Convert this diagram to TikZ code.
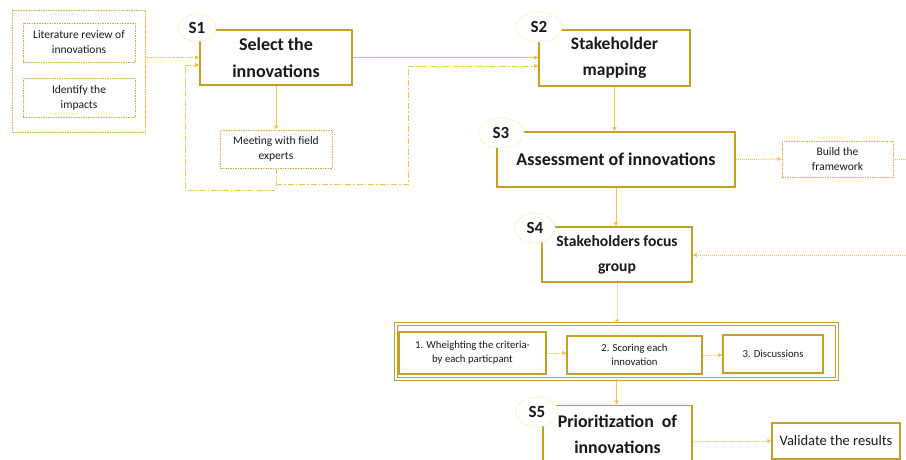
\documentclass[tikz,border=0pt]{standalone}
\usepackage{fontspec}
\setmainfont{Carlito}
\usetikzlibrary{arrows.meta,shapes.geometric,calc}
\definecolor{gold}{RGB}{198,160,36}
\definecolor{lineyel}{RGB}{242,196,64}
\definecolor{dotgold}{RGB}{214,172,50}
\definecolor{ellyel}{RGB}{245,215,110}
\definecolor{txt}{RGB}{25,25,25}
\tikzset{
  mainbox/.style={draw=gold,line width=1.6pt,fill=white,align=center,inner sep=2pt,text=txt},
  subbox/.style={draw=dotgold,dash pattern=on 1.5pt off 1pt,line width=0.9pt,fill=white,align=center,inner sep=2pt,text=txt,font=\fontsize{11.5}{15}\selectfont},
  plainbox/.style={draw=gold,line width=1.2pt,fill=white,align=center,inner sep=2pt,text=txt,font=\fontsize{10.7}{14}\selectfont},
  slabel/.style={ellipse,draw=ellyel,dotted,line width=0.8pt,fill=white,inner sep=0pt,text=txt,font=\fontsize{17}{17}\selectfont\bfseries},
  tip/.style={-{Triangle[length=4pt,width=4pt]}},
  solidarr/.style={tip,draw=lineyel,line width=1pt},
  dotarr/.style={tip,draw=lineyel,line width=1pt,dash pattern=on 1pt off 1pt},
  dasharr/.style={tip,draw=lineyel,line width=1pt,dash pattern=on 3pt off 1.5pt},
  dasharr2/.style={draw=lineyel,line width=1pt,dash pattern=on 6pt off 2pt on 1.5pt off 2pt},
}
\begin{document}
\begin{tikzpicture}[x=1pt,y=-1pt]
\useasboundingbox (0,0) rectangle (906,459);
\clip (0,0) rectangle (906,459);
\fill[white] (0,0) rectangle (906,459);

% left group
\node[subbox,minimum width=133pt,minimum height=122pt] (outer) at (78.5,71) {};
\node[subbox,minimum width=112pt,minimum height=39pt] (lit) at (79,42.5) {Literature review of\\innovations};
\node[subbox,minimum width=112pt,minimum height=39pt] (imp) at (79,97.5) {Identify the\\impacts};

% S1
\node[mainbox,minimum width=152pt,minimum height=55pt,font=\fontsize{18}{27}\selectfont\bfseries] (s1) at (276,57.5) {Select the\\innovations};
\node[slabel,minimum width=38pt,minimum height=27pt] (e1) at (197,28) {S1};
\node[subbox,minimum width=112pt,minimum height=38pt] (meet) at (276,149) {Meeting with field\\experts};

% S2
\node[mainbox,minimum width=151pt,minimum height=56pt,font=\fontsize{17.5}{26}\selectfont\bfseries] (s2) at (614.5,58) {Stakeholder\\mapping};
\node[slabel,minimum width=46pt,minimum height=30pt] (e2) at (539,27) {S2};

% S3
\node[mainbox,minimum width=238pt,minimum height=55pt,font=\fontsize{18}{20}\selectfont\bfseries] (s3) at (616,159.5) {Assessment of innovations};
\node[slabel,minimum width=46pt,minimum height=30pt] (e3) at (501,133) {S3};
\node[subbox,minimum width=111pt,minimum height=36pt] (build) at (837.5,159) {Build the\\framework};

% S4
\node[mainbox,minimum width=150pt,minimum height=55pt,font=\fontsize{15.6}{25}\selectfont\bfseries] (s4) at (617,254.5) {Stakeholders focus\\group};
\node[slabel,minimum width=40pt,minimum height=30pt] (e4) at (535,228) {S4};

% focus group steps
\node[draw=gold,line width=0.9pt,double=white,double distance=1.6pt,minimum width=441pt,minimum height=55pt] (grp) at (616.5,351.5) {};
\node[plainbox,line width=1.7pt,minimum width=147pt,minimum height=42pt] (b1) at (472.5,353) {1. Wheighting the criteria-\\by each particpant};
\node[plainbox,minimum width=135pt,minimum height=38pt] (b2) at (634.5,355) {2. Scoring each\\innovation};
\node[plainbox,minimum width=100pt,minimum height=38pt] (b3) at (773,354) {3. Discussions};

% S5
\node[mainbox,minimum width=149pt,minimum height=58pt,font=\fontsize{17.8}{26}\selectfont\bfseries] (s5) at (617.5,434.5) {Prioritization~~of\\innovations};
\node[slabel,minimum width=42pt,minimum height=30pt] (e5) at (537,412) {S5};
\node[plainbox,minimum width=128pt,minimum height=36pt,font=\fontsize{14.5}{16}\selectfont] (val) at (836,441) {Validate the results};

% coordinates
\coordinate (l1) at (185,190);
\coordinate (l2) at (185,65);
\coordinate (r1) at (408,184);
\coordinate (r2) at (408,66);
\coordinate (c1) at (910,159);
\coordinate (c2) at (910,255);

% connectors
\draw[dasharr] (outer.east |- s1.west) -- (s1.west);
\draw[solidarr] (s1.east) -- (s1.east -| s2.west);
\draw[solidarr] (s1.south) -- (meet.north);
\draw[dasharr2] (meet.south) -- (meet.south |- l1) -- (l1) -- (l2);
\draw[solidarr,dash pattern=on 6pt off 2pt on 1.5pt off 2pt] (l2) -- (l2 -| s1.west);
\draw[dasharr2] (meet.south |- r1) -- (r1) -- (r2);
\draw[solidarr,dash pattern=on 6pt off 2pt on 1.5pt off 2pt] (r2) -- (r2 -| s2.west);
\draw[solidarr] (s2.south) -- (s2.south |- s3.north);
\draw[dotarr] (s3.east) -- (build.west);
\draw[dotarr] (build.east) -- (c1) -- (c2) -- (s4.east |- c2);
\draw[solidarr] (s3.south) -- (s3.south |- s4.north);
\draw[dotarr] (s4.south) -- (s4.south |- grp.north);
\draw[dotarr] (b1.east) -- (b1.east -| b2.west);
\draw[dotarr] (b2.east) -- (b2.east -| b3.west);
\draw[solidarr] (grp.south) -- (grp.south |- s5.north);
\draw[dotarr] (s5.east |- val.west) -- (val.west);
\end{tikzpicture}
\end{document}
